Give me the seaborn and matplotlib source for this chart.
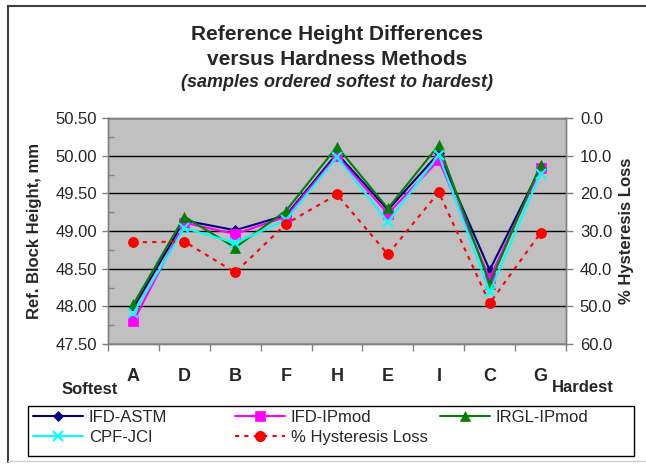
import numpy as np
import pandas as pd
import matplotlib
matplotlib.use("Agg")
import matplotlib.pyplot as plt
from matplotlib.lines import Line2D
from matplotlib.patches import Rectangle
import seaborn as sns

samples = ["A", "D", "B", "F", "H", "E", "I", "C", "G"]
ifd_astm = [47.98, 49.14, 49.01, 49.21, 50.03, 49.28, 50.03, 48.48, 49.84]
ifd_ipmod = [47.80, 49.11, 48.96, 49.19, 50.00, 49.23, 49.94, 48.37, 49.83]
irgl_ipmod = [48.03, 49.19, 48.78, 49.27, 50.12, 49.30, 50.14, 48.30, 49.88]
cpf_jci = [47.91, 49.04, 48.84, 49.15, 49.98, 49.12, 50.01, 48.19, 49.76]
hysteresis = [33.0, 32.8, 41.0, 28.1, 20.3, 36.2, 19.7, 49.2, 30.5]

sns.set_theme(style="white")
plt.rcParams['font.family'] = ['Liberation Sans', 'DejaVu Sans']

W, H = 646, 466
def fx(px):
    return px / W
def fy(py):
    return 1 - py / H

fig = plt.figure(figsize=(6.46, 4.66), dpi=100)
ax = fig.add_axes([fx(108), fy(344), 458 / W, 226 / H])
ax.set_facecolor('#C0C0C0')

x = np.arange(len(samples))
series = [
    ("IFD-ASTM", ifd_astm, '#000080', 'D', 5),
    ("IFD-IPmod", ifd_ipmod, '#FF00FF', 's', 7),
    ("IRGL-IPmod", irgl_ipmod, '#008000', '^', 7),
    ("CPF-JCI", cpf_jci, '#00FFFF', 'x', 7),
]
h = {}
for name, vals, col, mk, ms in series:
    mew = 1.5 if mk == 'x' else 0.5
    sns.lineplot(x=x, y=vals, ax=ax, color=col, marker=mk, markersize=ms,
                 markeredgecolor=col, markeredgewidth=mew,
                 linewidth=1.5, sort=False, legend=False, errorbar=None)
    h[name] = Line2D([], [], color=col, marker=mk, markersize=ms,
                     markeredgecolor=col, markeredgewidth=mew,
                     linewidth=1.5, label=name)

ax.set_xlim(-0.5, 8.5)
ax.set_ylim(47.5, 50.5)
yt = np.arange(47.5, 50.51, 0.5)
ax.set_yticks(yt)
ax.set_yticklabels([f"{v:.2f}" for v in yt], fontsize=12)
ax.set_yticks(np.arange(47.5, 50.51, 0.25), minor=True)
ax.grid(axis='y', which='major', color='black', linewidth=1)
ax.set_axisbelow(True)
ax.tick_params(axis='y', which='major', direction='out', length=4, width=1,
               color='#808080', pad=4, left=True)
ax.tick_params(axis='y', which='minor', direction='in', length=4, width=1,
               color='#808080', left=True)
ax.set_xticks(x)
ax.set_xticklabels(samples, fontsize=13, fontweight='bold')
ax.set_xticks(np.arange(-0.5, 8.6, 1), minor=True)
ax.tick_params(axis='x', which='major', length=0, pad=17)
ax.tick_params(axis='x', which='minor', direction='out', length=5, width=1,
               color='#808080', bottom=True)
ax.set_ylabel("")
ax.set_xlabel("")
for s in ax.spines.values():
    s.set_color('#808080')
    s.set_linewidth(1)

ax2 = ax.twinx()
dash = (0, (2, 2.5))
sns.lineplot(x=x, y=hysteresis, ax=ax2, color='#FF0000', marker='o', markersize=7,
             markeredgecolor='#FF0000', linewidth=1.5, linestyle=dash, sort=False,
             legend=False, errorbar=None)
h["% Hysteresis Loss"] = Line2D([], [], color='#FF0000', marker='o', markersize=7,
                                markeredgecolor='#FF0000', linewidth=1.5, linestyle=dash,
                                label="% Hysteresis Loss")
ax2.set_ylim(60, 0)
rt = np.arange(0, 60.1, 10)
ax2.set_yticks(rt)
ax2.set_yticklabels([f"{v:.1f}" for v in rt], fontsize=12)
ax2.tick_params(axis='y', direction='out', length=5, width=1, color='#808080',
                pad=5, right=True)
ax2.set_ylabel("")
ax2.grid(False)
for s in ax2.spines.values():
    s.set_color('#808080')
    s.set_linewidth(1)

fig.text(fx(35), fy(231), "Ref. Block Height, mm", rotation=90, ha='center',
         va='center', fontsize=12, fontweight='bold')
fig.text(fx(626), fy(231), "% Hysteresis Loss", rotation=90, ha='center',
         va='center', fontsize=12, fontweight='bold')

fig.text(fx(337), fy(35), "Reference Height Differences", ha='center', va='center',
         fontsize=15, fontweight='bold')
fig.text(fx(337), fy(60), "versus Hardness Methods", ha='center', va='center',
         fontsize=15, fontweight='bold')
fig.text(fx(337), fy(83), "(samples ordered softest to hardest)", ha='center',
         va='center', fontsize=13, fontweight='bold', style='italic')

fig.text(fx(90), fy(389), "Softest", ha='center', va='center', fontsize=12,
         fontweight='bold')
fig.text(fx(583), fy(388), "Hardest", ha='center', va='center', fontsize=12,
         fontweight='bold')

cols = [
    (33, [h["IFD-ASTM"], h["CPF-JCI"]]),
    (235, [h["IFD-IPmod"], h["% Hysteresis Loss"]]),
    (440, [h["IRGL-IPmod"]]),
]
for xpos, hs in cols:
    lg = fig.legend(handles=hs, loc='upper left', bbox_to_anchor=(fx(xpos), fy(410)),
                    fontsize=12, frameon=False, handlelength=3.0,
                    borderpad=0, borderaxespad=0, labelspacing=0.3,
                    handletextpad=0.35)
fig.add_artist(Rectangle((fx(28), fy(456)), 606 / W, 50 / H, fill=False,
                         edgecolor='black', linewidth=1, transform=fig.transFigure))

fig.add_artist(Line2D([fx(8), fx(8)], [fy(462), fy(6)], color='#404040', linewidth=1.5))
fig.add_artist(Line2D([fx(8), 1.0], [fy(6), fy(6)], color='#404040', linewidth=1.5))
fig.add_artist(Line2D([fx(8), 1.0], [fy(461), fy(461)], color='#D0D0D0', linewidth=1))

fig.savefig("out.png", dpi=100)
